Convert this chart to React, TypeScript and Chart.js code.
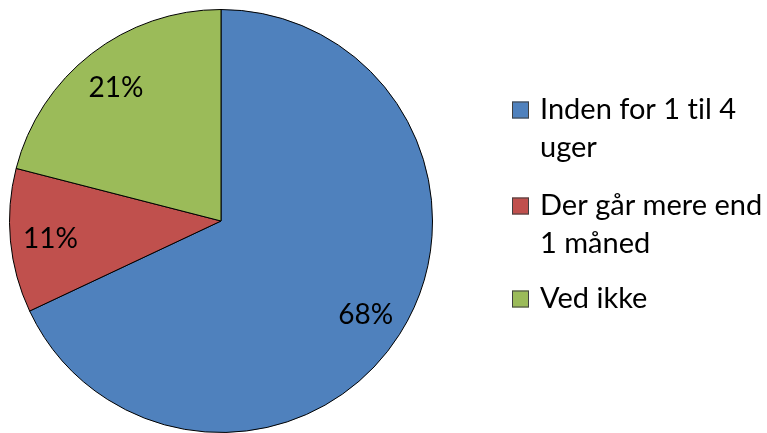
import React, { useEffect, useRef } from "react";
import { Chart, registerables } from "chart.js";

Chart.register(...registerables);

const categories = ["Inden for 1 til 4 uger", "Der går mere end 1 måned", "Ved ikke"];
const legendLines = [["Inden for 1 til 4", "uger"], ["Der går mere end", "1 måned"], ["Ved ikke"]];
const values = [68, 11, 21];
const colors = ["#4F81BD", "#C0504D", "#9BBB59"];

const FONT = "Lato, 'Open Sans', sans-serif";

const overlayPlugin = {
  id: "overlay",
  afterDraw(chart: any) {
    const ctx = chart.ctx;
    const meta = chart.getDatasetMeta(0);
    const total = values.reduce((a, b) => a + b, 0);
    ctx.save();
    try { (ctx as any).textRendering = "optimizeSpeed"; } catch (e) {}
    ctx.fillStyle = "#000";
    ctx.font = `28px ${FONT}`;
    ctx.textAlign = "center";
    ctx.textBaseline = "middle";
    meta.data.forEach((arc: any, i: number) => {
      const { x, y, startAngle, endAngle, outerRadius } = arc.getProps(["x", "y", "startAngle", "endAngle", "outerRadius"], true);
      const mid = (startAngle + endAngle) / 2;
      const r = outerRadius * 0.81;
      const pct = Math.round((values[i] / total) * 100) + "%";
      ctx.fillText(pct, x + Math.cos(mid) * r, y + Math.sin(mid) * r + 2);
    });
    // legend
    ctx.textAlign = "left";
    ctx.font = `29px ${FONT}`;
    const sqX = 512;
    const sq = 17;
    const textX = 540;
    const lineH = 38;
    const groupStarts = [110, 206, 299];
    legendLines.forEach((lines, i) => {
      const y0 = groupStarts[i];
      ctx.fillStyle = colors[i];
      ctx.fillRect(sqX, y0 - sq / 2, sq, sq);
      ctx.strokeStyle = "#404040";
      ctx.lineWidth = 1;
      ctx.strokeRect(sqX + 0.5, y0 - sq / 2 + 0.5, sq - 1, sq - 1);
      ctx.fillStyle = "#000";
      lines.forEach((t, j) => ctx.fillText(t, textX, y0 + j * lineH));
    });
    ctx.restore();
  },
};

export default function App() {
  const ref = useRef<HTMLCanvasElement>(null);
  useEffect(() => {
    const chart = new Chart(ref.current!, {
      type: "pie",
      data: {
        labels: categories,
        datasets: [
          {
            data: values,
            backgroundColor: colors,
            borderColor: "#000",
            borderWidth: 1,
          },
        ],
      },
      options: {
        animation: false,
        responsive: false,
        maintainAspectRatio: false,
        layout: { padding: { left: 8, top: 9, right: 333, bottom: 0 } },
        plugins: { legend: { display: false }, tooltip: { enabled: false } },
      },
      plugins: [overlayPlugin],
    });
    return () => chart.destroy();
  }, []);
  return (
    <div style={{ position: "fixed", left: 0, top: 0, width: 767, height: 433, background: "#fff" }}>
      <canvas ref={ref} width={767} height={433} />
    </div>
  );
}
